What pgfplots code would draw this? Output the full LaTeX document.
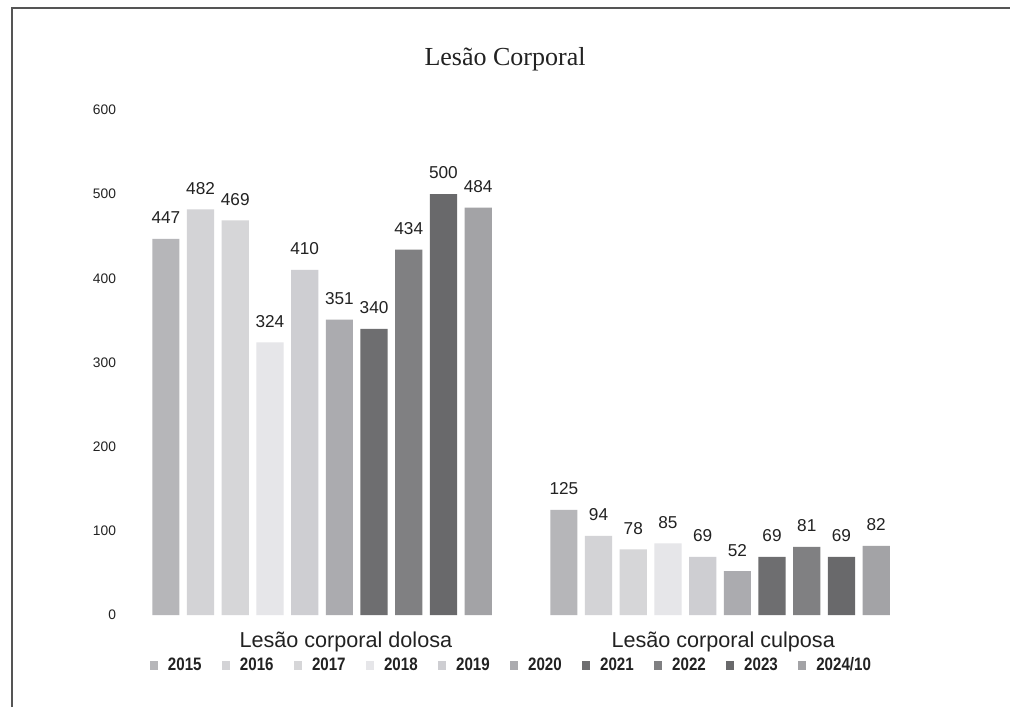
\documentclass[border=0pt]{standalone}
\usepackage{fontspec}
\setmainfont{Liberation Sans}
\newfontfamily\titlefont{Liberation Serif}
\newfontfamily\narrowfont[FakeStretch=0.84]{Liberation Sans}
\usepackage{pgfplots}
\pgfplotsset{compat=1.18}

% scanned grey shades, one per year
\definecolor{y2015}{HTML}{B6B6B9}
\definecolor{y2016}{HTML}{D3D3D6}
\definecolor{y2017}{HTML}{D6D6D8}
\definecolor{y2018}{HTML}{E6E6E9}
\definecolor{y2019}{HTML}{CECED2}
\definecolor{y2020}{HTML}{ABABAF}
\definecolor{y2021}{HTML}{6E6E70}
\definecolor{y2022}{HTML}{808082}
\definecolor{y2023}{HTML}{69696B}
\definecolor{y2024}{HTML}{A3A3A6}
\definecolor{frame}{HTML}{555555}
\definecolor{txt}{HTML}{222222}

\begin{document}
\begin{tikzpicture}[x=1pt,y=1pt]
\useasboundingbox (0,0) rectangle (505,353.5);
\fill[white] (0,0) rectangle (505,353.5);
\draw[frame, line width=0.9pt] (6,0) -- (6,349.5) -- (505,349.5);
\node[font=\titlefont\fontsize{13}{15}\selectfont, text=txt] at (252.5,324) {Lesão Corporal};

\begin{axis}[
    at={(61.5pt,46pt)}, anchor=south west,
    scale only axis,
    width=398pt, height=252.5pt,
    xmin=-0.5, xmax=1.5,
    ymin=0, ymax=600,
    enlargelimits=false,
    ybar=3.75pt,
    bar width=13.6pt,
    axis line style={draw=none},
    major tick length=0pt,
    ytick={0,100,...,600},
    xtick={0.06,1.008},
    xticklabels={Lesão corporal dolosa, Lesão corporal culposa},
    x tick label style={font=\fontsize{10.8}{12}\selectfont, text=txt, yshift=-5pt},
    y tick label style={font=\fontsize{6.9}{8}\selectfont, text=txt},
    /pgf/number format/assume math mode=true,
    nodes near coords,
    nodes near coords style={font=\fontsize{8.6}{10}\selectfont, text=txt, yshift=4pt},
    clip=false,
    legend columns=10,
    legend style={
        at={(0.489,-0.1)}, anchor=center,
        draw=none, fill=none,
        font=\narrowfont\bfseries\fontsize{9}{10}\selectfont,
        text=txt,
        /tikz/every odd column/.append style={column sep=3pt},
        /tikz/every even column/.append style={column sep=8pt}
    },
    legend image code/.code={\fill[#1] (0pt,-2.1pt) rectangle (4.2pt,2.1pt);},
]
\addplot[fill=y2015, draw=none] coordinates {(0,447) (1,125)};
\addplot[fill=y2016, draw=none] coordinates {(0,482) (1,94)};
\addplot[fill=y2017, draw=none] coordinates {(0,469) (1,78)};
\addplot[fill=y2018, draw=none] coordinates {(0,324) (1,85)};
\addplot[fill=y2019, draw=none] coordinates {(0,410) (1,69)};
\addplot[fill=y2020, draw=none] coordinates {(0,351) (1,52)};
\addplot[fill=y2021, draw=none] coordinates {(0,340) (1,69)};
\addplot[fill=y2022, draw=none] coordinates {(0,434) (1,81)};
\addplot[fill=y2023, draw=none] coordinates {(0,500) (1,69)};
\addplot[fill=y2024, draw=none] coordinates {(0,484) (1,82)};
\legend{2015, 2016, 2017, 2018, 2019, 2020, 2021, 2022, 2023, 2024/10}
\end{axis}
\end{tikzpicture}
\end{document}
